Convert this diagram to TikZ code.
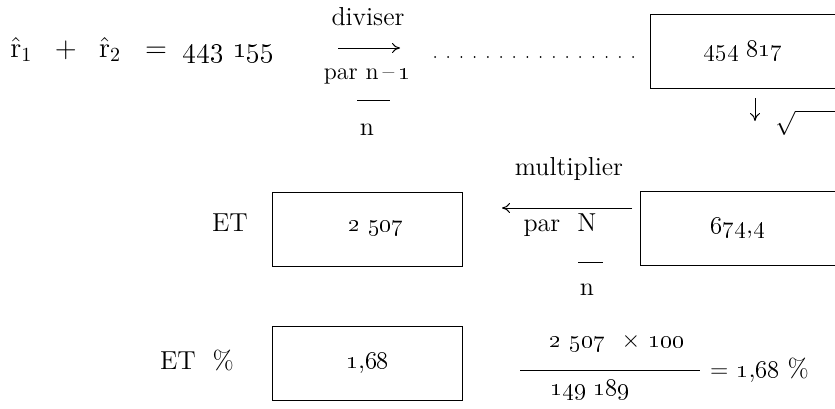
\documentclass[tikz,border=0pt]{standalone}
\usepackage{tikz}
\usepackage{amsmath}
\usetikzlibrary{arrows.meta}
\newcommand{\osn}[1]{\oldstylenums{#1}}

\begin{document}
\begin{tikzpicture}[
x=0.5pt,y=-0.5pt,
font=\fontsize{13}{15}\selectfont,
valbox/.style={rectangle,draw,line width=0.5pt,minimum width=95pt,minimum height=37pt,inner sep=0pt},
arrow/.style={-{To[length=4pt,width=5pt]},line width=0.5pt},
bar/.style={line width=0.5pt}
]
\useasboundingbox (0,0) rectangle (835,408);
\clip (0,0) rectangle (835,408);
% first row
\node[font=\fontsize{14}{16}\selectfont,anchor=west,inner sep=0pt] (sumr) at (10,50) {$\hat{\mathrm r}_1 \;\;+\;\; \hat{\mathrm r}_2 \;\;=\;\;$\osn{443 155}};
\node (div) at (368,17) {diviser};
\coordinate (d1) at (338,48);
\coordinate (d2) at (400,48);
\draw[arrow] (d1) -- (d2);
\node[font=\fontsize{12}{14}\selectfont] (parn) at (367,76) {par n\,--\,\osn{1}};
\draw[bar] (357,100) -- (390,100);
\node (n1) at (367,130) {n};
\coordinate (p1) at (435,57);
\coordinate (p2) at (634,57);
\draw[line width=1pt,line cap=round,dash pattern=on 0pt off 6.6pt] (p1) -- (p2);
\node[valbox,minimum width=93pt] (sum) at (743,51) {\osn{454 817}};
\coordinate (r1) at (755,98);
\coordinate (r2) at (755,121);
\draw[arrow] (r1) -- (r2);
\node[anchor=west,inner sep=0pt] (rad) at (775,123) {$\sqrt{\vphantom{Ay}\hphantom{MMMMM}}$};
% second row
\node (etl) at (230,223) {ET};
\node[valbox] (et) at (367,229) {\hspace{9pt}\osn{2 507}};
\node (mult) at (569,169) {multiplier};
\coordinate (m1) at (632,208);
\coordinate (m2) at (502,208);
\draw[arrow] (m1) -- (m2);
\node (parN) at (560,225) {par\ \ N};
\draw[bar] (578,262) -- (603,262);
\node (n2) at (587,290) {n};
\node[valbox,minimum width=98pt] (sd) at (738,228.5) {\osn{674},\osn{4}\hspace{6pt}};
% third row
\node (etpl) at (197,360) {ET\ \ \%};
\node[valbox] (etp) at (367.5,363) {\osn{1},\osn{68}\hspace{8pt}};
\node (num) at (617,343) {\osn{2 507} \ $\times$\ \osn{100}};
\draw[bar] (520,370) -- (700,370);
\node (den) at (590,390) {\osn{149 189}};
\node[anchor=west] (res) at (703,370) {$=$ \osn{1},\osn{68} \%};
\end{tikzpicture}
\end{document}
